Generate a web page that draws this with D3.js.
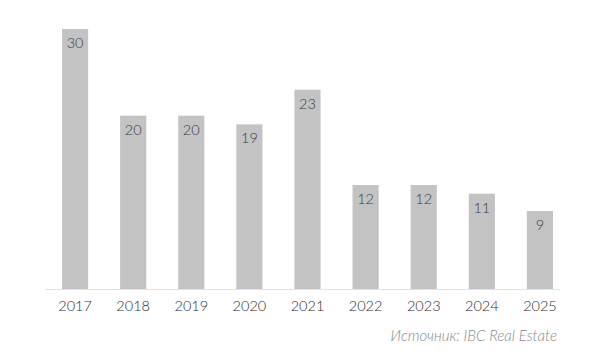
<!DOCTYPE html>
<html><head><meta charset="utf-8">
<script src="https://cdn.jsdelivr.net/npm/d3@7"></script>
<style>body{margin:0;background:#fff}svg{display:block}</style>
</head><body>
<svg id="c" width="600" height="360"></svg>
<script>
const years = ["2017","2018","2019","2020","2021","2022","2023","2024","2025"];
const values = [30,20,20,19,23,12,12,11,9];
const sourceText = "Источник: IBC Real Estate";

const svg = d3.select("#c");
const baseY = 289;
const x = d3.scaleBand().domain(years).range([46,569]).paddingInner(0.55).paddingOuter(0.275);
const y = d3.scaleLinear().domain([0,30]).range([baseY,29]);

svg.append("line").attr("x1",45).attr("x2",560).attr("y1",baseY+0.5).attr("y2",baseY+0.5)
  .attr("stroke","#e2e2e2").attr("stroke-width",1);

svg.selectAll("rect.bar").data(values).join("rect").attr("class","bar")
  .attr("x",(d,i)=>x(years[i])).attr("width",x.bandwidth())
  .attr("y",d=>y(d)).attr("height",d=>baseY-y(d)).attr("fill","#c3c3c3");

svg.selectAll("text.val").data(values).join("text").attr("class","val")
  .attr("x",(d,i)=>x(years[i])+x.bandwidth()/2).attr("y",d=>y(d)+19)
  .attr("text-anchor","middle").attr("font-family","Lato, sans-serif").attr("font-weight",300)
  .attr("font-size",14.5).attr("fill","#3a3a3a").text(d=>d);

const ax = svg.append("g").attr("transform",`translate(0,${baseY})`)
  .call(d3.axisBottom(x).tickSize(0).tickPadding(12));
ax.select(".domain").remove();
ax.selectAll("text").attr("font-family","Lato, sans-serif").attr("font-weight",300)
  .attr("font-size",14.5).attr("fill","#2a2a2a");

svg.append("text").attr("x",557).attr("y",341).attr("text-anchor","end")
  .attr("font-family","Lato, sans-serif").attr("font-style","italic").attr("font-weight",300)
  .attr("font-size",15).attr("fill","#888").text(sourceText);
</script>
</body></html>
